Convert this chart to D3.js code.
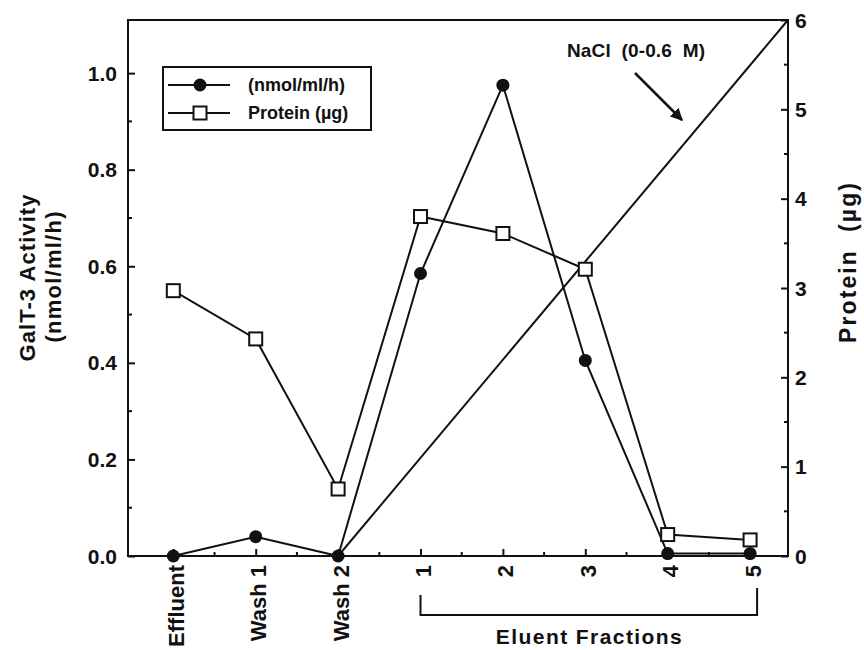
<!DOCTYPE html>
<html><head><meta charset="utf-8">
<script src="https://cdn.jsdelivr.net/npm/d3@7"></script>
<style>
html,body{margin:0;padding:0;background:#fff;}
text{font-family:"Liberation Sans",Arial,sans-serif;font-weight:bold;fill:#111;}
</style></head>
<body><svg id="c" width="864" height="650"></svg>
<script>
const categories = ["Effluent","Wash 1","Wash 2","1","2","3","4","5"];
const activity = [0.0, 0.04, 0.0, 0.585, 0.975, 0.405, 0.005, 0.005];
const protein = [2.97, 2.43, 0.75, 3.80, 3.61, 3.21, 0.24, 0.18];
const leftTicks = [0.0, 0.2, 0.4, 0.6, 0.8, 1.0];
const rightTicks = [0, 1, 2, 3, 4, 5, 6];
const naclIndex = [2, 7.46];
const naclConc = [0, 0.6];

const svg = d3.select("#c");
const L = 128, R = 788, T = 20, B = 556;
const x = d3.scaleLinear().domain([-0.55, 7.46]).range([L, R]);
const yL = d3.scaleLinear().domain([0, 1.11]).range([B, T]);
const yR = d3.scaleLinear().domain([0, 6]).range([B, T]);
const yN = d3.scaleLinear().domain([0, 0.6]).range([B, T]);

const ink = "#111";
// frame
svg.append("rect").attr("x", L).attr("y", T).attr("width", R - L).attr("height", B - T)
  .attr("fill", "none").attr("stroke", ink).attr("stroke-width", 2);

// left axis
const gL = svg.append("g").attr("transform", `translate(${L},0)`);
gL.call(d3.axisRight(yL).tickValues(leftTicks).tickSize(7).tickFormat(""));
gL.call(g => g.selectAll(".domain").remove());
gL.selectAll("line").attr("stroke", ink).attr("stroke-width", 2);
const minorL = d3.range(1, 10, 2).map(d => d / 10);
gL.selectAll(".mn").data(minorL).enter().append("line")
  .attr("x1", 0).attr("x2", 4).attr("y1", d => yL(d)).attr("y2", d => yL(d))
  .attr("stroke", ink).attr("stroke-width", 2);
svg.selectAll(".ltl").data(leftTicks).enter().append("text")
  .attr("x", 117).attr("y", d => yL(d)).attr("text-anchor", "end")
  .attr("dominant-baseline", "central").style("font-size", "21px")
  .text(d => d.toFixed(1));

// right axis
const gR = svg.append("g").attr("transform", `translate(${R},0)`);
gR.call(d3.axisLeft(yR).tickValues(rightTicks).tickSize(7).tickFormat(""));
gR.call(g => g.selectAll(".domain").remove());
gR.selectAll("line").attr("stroke", ink).attr("stroke-width", 2);
const minorR = d3.range(0.5, 6, 1);
gR.selectAll(".mn").data(minorR).enter().append("line")
  .attr("x1", 0).attr("x2", -4).attr("y1", d => yR(d)).attr("y2", d => yR(d))
  .attr("stroke", ink).attr("stroke-width", 2);
svg.selectAll(".rtl").data(rightTicks).enter().append("text")
  .attr("x", 795).attr("y", d => yR(d)).attr("text-anchor", "start")
  .attr("dominant-baseline", "central").style("font-size", "21px")
  .text(d => d);

// bottom axis
const idx = categories.map((c, i) => i);
const gB = svg.append("g").attr("transform", `translate(0,${B})`);
gB.call(d3.axisTop(x).tickValues(idx).tickSize(7).tickFormat(""));
gB.call(g => g.selectAll(".domain").remove());
gB.selectAll("line").attr("stroke", ink).attr("stroke-width", 2);
const minorB = d3.range(0.5, 7, 1);
gB.selectAll(".mn").data(minorB).enter().append("line")
  .attr("x1", d => x(d)).attr("x2", d => x(d)).attr("y1", 0).attr("y2", -4)
  .attr("stroke", ink).attr("stroke-width", 2);
svg.selectAll(".xtl").data(categories).enter().append("text")
  .attr("transform", (d, i) => `translate(${x(i) + 3},565) rotate(-90)`)
  .attr("text-anchor", "end").attr("dominant-baseline", "central")
  .style("font-size", "22px").text(d => d);

// NaCl gradient line
const nacl = naclIndex.map((v, i) => [x(v), yN(naclConc[i])]);
svg.append("path").attr("d", d3.line()(nacl)).attr("fill", "none")
  .attr("stroke", ink).attr("stroke-width", 2);

// series lines
const lineA = d3.line().x((d, i) => x(i)).y(d => yL(d));
const lineP = d3.line().x((d, i) => x(i)).y(d => yR(d));
svg.append("path").attr("d", lineP(protein)).attr("fill", "none").attr("stroke", ink).attr("stroke-width", 2);
svg.append("path").attr("d", lineA(activity)).attr("fill", "none").attr("stroke", ink).attr("stroke-width", 2);

// markers
const s = 13;
svg.selectAll(".sq").data(protein).enter().append("rect")
  .attr("x", (d, i) => x(i) - s / 2).attr("y", d => yR(d) - s / 2)
  .attr("width", s).attr("height", s).attr("fill", "#fff").attr("stroke", ink).attr("stroke-width", 2);
svg.selectAll(".ci").data(activity).enter().append("circle")
  .attr("cx", (d, i) => x(i)).attr("cy", d => yL(d)).attr("r", 6.5).attr("fill", ink);

// legend
const lg = svg.append("g");
lg.append("rect").attr("x", 163).attr("y", 67).attr("width", 208).attr("height", 63)
  .attr("fill", "#fff").attr("stroke", ink).attr("stroke-width", 2);
const legendItems = [{label: "(nmol/ml/h)", type: "circle", y: 85}, {label: "Protein (\u00b5g)", type: "square", y: 113}];
legendItems.forEach(it => {
  lg.append("line").attr("x1", 168).attr("x2", 230).attr("y1", it.y).attr("y2", it.y)
    .attr("stroke", ink).attr("stroke-width", 2);
  if (it.type === "circle") {
    lg.append("circle").attr("cx", 200).attr("cy", it.y).attr("r", 6.5).attr("fill", ink);
  } else {
    lg.append("rect").attr("x", 200 - s / 2).attr("y", it.y - s / 2).attr("width", s).attr("height", s)
      .attr("fill", "#fff").attr("stroke", ink).attr("stroke-width", 2);
  }
  lg.append("text").attr("x", 248).attr("y", it.y).attr("dominant-baseline", "central")
    .style("font-size", "18px").text(it.label);
});

// NaCl annotation
svg.append("text").attr("x", 567).attr("y", 50).attr("dominant-baseline", "central")
  .attr("textLength", 138).attr("lengthAdjust", "spacing")
  .style("font-size", "19px").style("white-space", "pre").text("NaCl  (0-0.6  M)");
svg.append("defs").append("marker").attr("id", "ah").attr("viewBox", "0 0 10 10")
  .attr("refX", 9).attr("refY", 5).attr("markerWidth", 5).attr("markerHeight", 5)
  .attr("orient", "auto").append("path").attr("d", "M0,0 L10,5 L0,10 Z").attr("fill", ink);
svg.append("line").attr("x1", 635).attr("y1", 73).attr("x2", 682).attr("y2", 120)
  .attr("stroke", ink).attr("stroke-width", 2.5).attr("marker-end", "url(#ah)");

// axis titles
svg.append("text").attr("transform", "translate(27,278) rotate(-90)")
  .attr("text-anchor", "middle").attr("dominant-baseline", "central")
  .attr("textLength", 167).attr("lengthAdjust", "spacing")
  .style("font-size", "22px").text("GalT-3 Activity");
svg.append("text").attr("transform", "translate(53,277) rotate(-90)")
  .attr("text-anchor", "middle").attr("dominant-baseline", "central")
  .attr("textLength", 131).attr("lengthAdjust", "spacing")
  .style("font-size", "22px").text("(nmol/ml/h)");
svg.append("text").attr("transform", "translate(848,263) rotate(-90)")
  .attr("text-anchor", "middle").attr("dominant-baseline", "central")
  .attr("textLength", 160).attr("lengthAdjust", "spacing")
  .style("font-size", "23px").style("white-space", "pre").text("Protein  (\u00b5g)");

// bracket for eluent fractions
const bx0 = x(3), bx1 = x(7) + 7;
svg.append("path").attr("d", `M${bx0},595 L${bx0},615 L${bx1},615 L${bx1},588`)
  .attr("fill", "none").attr("stroke", ink).attr("stroke-width", 2);
svg.append("text").attr("x", (bx0 + bx1) / 2).attr("y", 636).attr("text-anchor", "middle")
  .attr("dominant-baseline", "central").attr("textLength", 186).attr("lengthAdjust", "spacing")
  .style("font-size", "21px").text("Eluent Fractions");
</script></body></html>
